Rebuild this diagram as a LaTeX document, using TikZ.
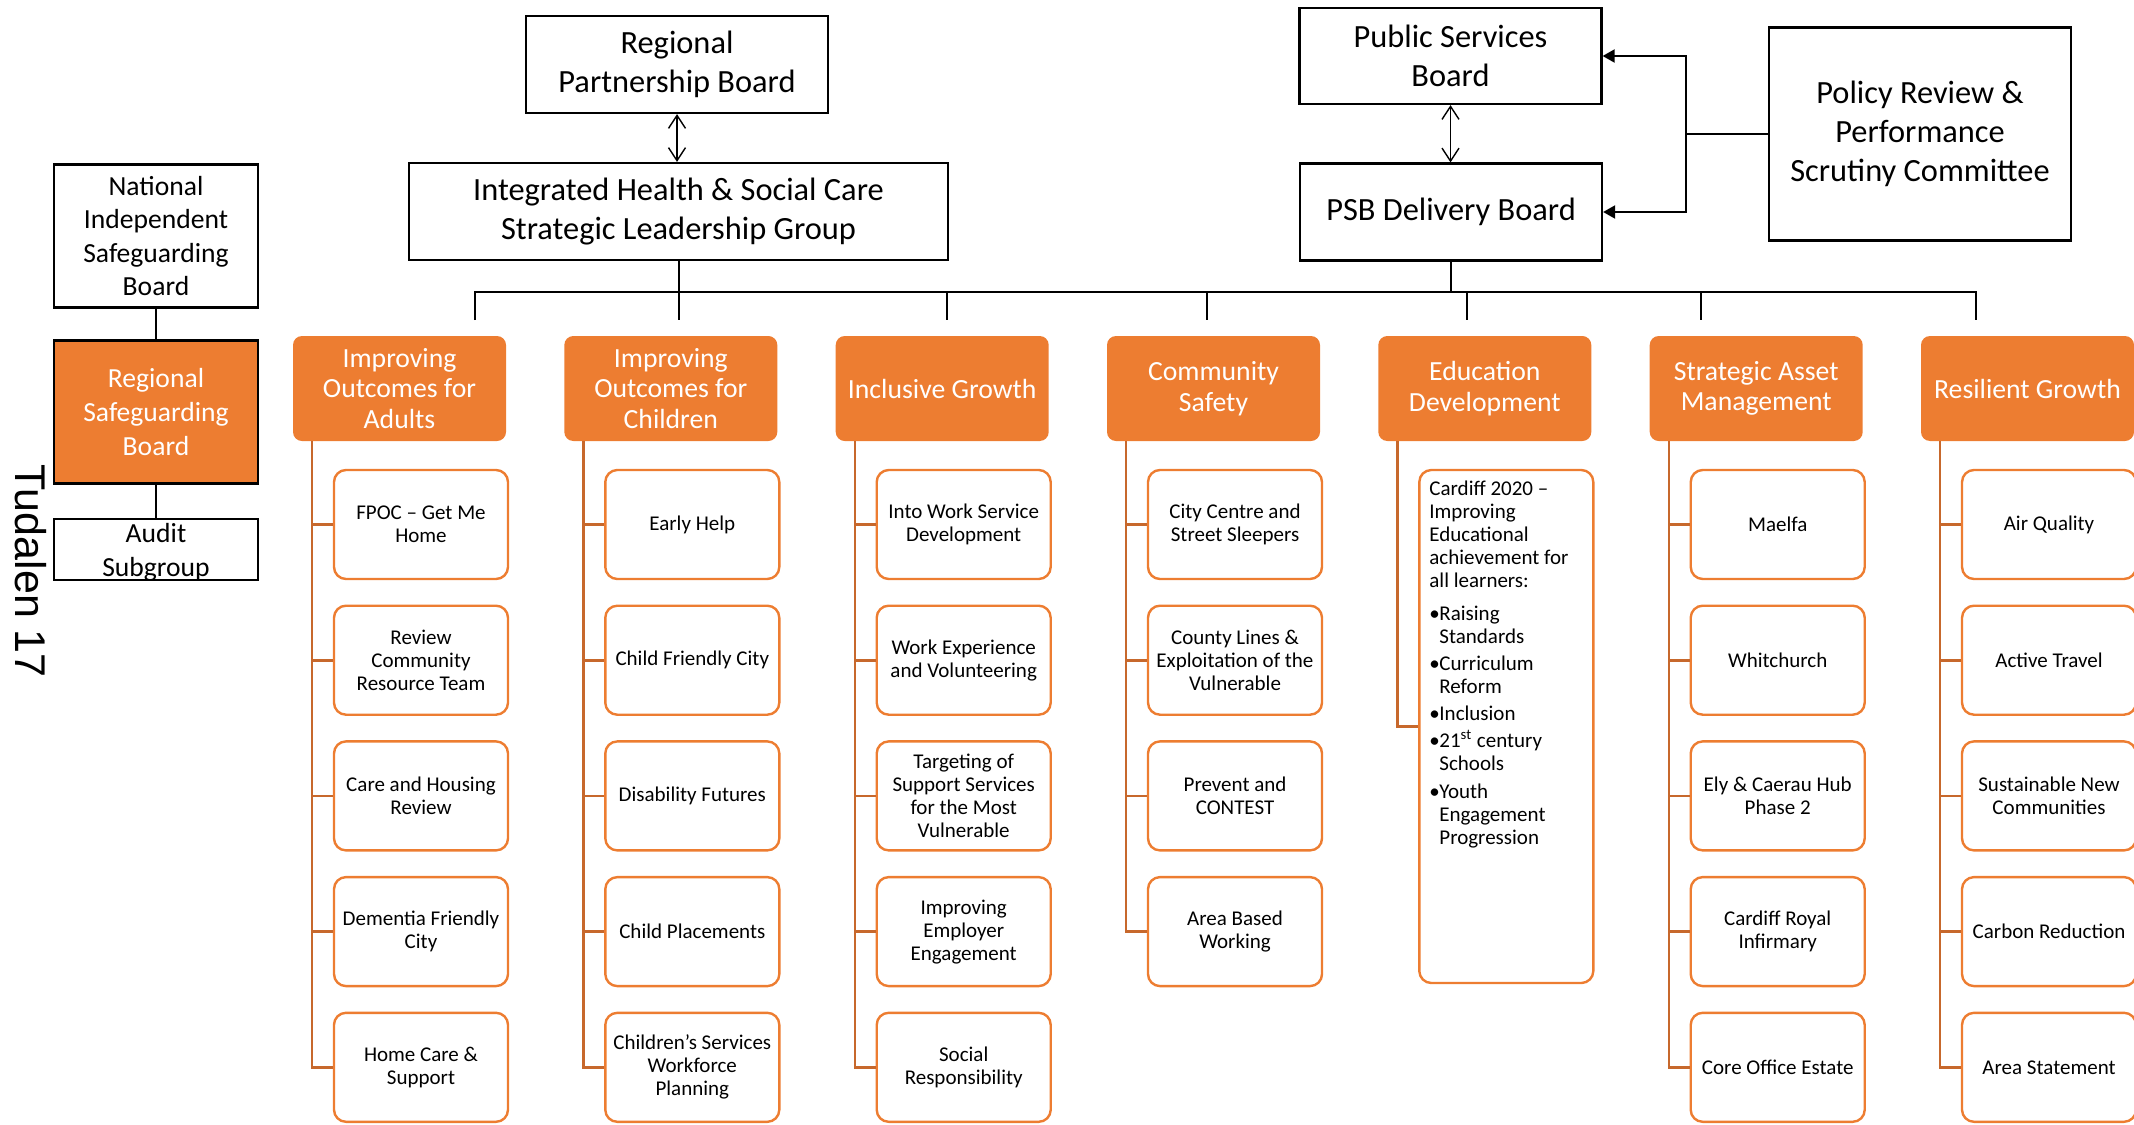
\documentclass[tikz,border=0pt]{standalone}
\usepackage{fontspec}
\setmainfont{Carlito}
\newfontfamily\pagefont{Liberation Sans}
\usetikzlibrary{arrows.meta,calc}
\definecolor{accent}{RGB}{237,125,49}
\definecolor{spine}{RGB}{199,104,44}

\begin{document}
\begin{tikzpicture}[x=0.5pt,y=-0.5pt,
  topbox/.style={draw=black, line width=1.1pt, fill=white, inner sep=0pt, align=center,
    font=\fontsize{16.2}{19.5}\selectfont},
  sidebox/.style={draw=black, line width=1.1pt, fill=white, inner sep=0pt, align=center,
    minimum width=102pt, font=\fontsize{13.8}{16.8}\selectfont},
  sidetext/.style={inner sep=0pt, align=center, font=\fontsize{13.8}{16.8}\selectfont},
  header/.style={fill=accent, rounded corners=4.5pt, minimum width=106.5pt, minimum height=52.5pt,
    inner sep=0pt, align=center, text=white, font=\fontsize{13.85}{15.3}\selectfont},
  leaf/.style={draw=accent, line width=1.2pt, fill=white, rounded corners=6pt,
    minimum width=87pt, minimum height=54.5pt, inner sep=0pt, align=center,
    font=\fontsize{10.5}{11.5}\selectfont},
  conn/.style={draw=spine, line width=1.3pt},
  link/.style={draw=black, line width=1pt},
  twoway/.style={draw=black, line width=0.7pt,
    {Straight Barb[length=6.5pt,width=8.5pt]}-{Straight Barb[length=6.5pt,width=8.5pt]}},
  feed/.style={draw=black, line width=1pt, -{Triangle[length=6pt,width=6.5pt]}}
]
\useasboundingbox (0,0) rectangle (2134,1124);

% governance boxes
\node[topbox, minimum width=151pt, minimum height=48.5pt] (rpb) at (677,64.5) {Regional\\Partnership Board};
\node[topbox, minimum width=269.5pt, minimum height=48.5pt] (ih) at (678.5,211.5) {Integrated Health \& Social Care\\Strategic Leadership Group};
\node[topbox, minimum width=151pt, minimum height=48pt] (psb) at (1450.5,56) {Public Services\\Board};
\node[topbox, minimum width=151pt, minimum height=48.5pt] (psbd) at (1451,212) {PSB Delivery Board};
\node[topbox, minimum width=151pt, minimum height=106.5pt] (policy) at (1920,134) {Policy Review \&\\Performance\\Scrutiny Committee};

% safeguarding chain
\node[sidebox, minimum height=71.5pt] (nisb) at (156,236) {National\\Independent\\Safeguarding\\Board};
\node[sidebox, fill=accent, text=white, minimum height=71.5pt] (rsb) at (156,412) {Regional\\Safeguarding\\Board};
\node[sidebox, minimum height=30.5pt] (audit) at (156,549.5) {};
\node[sidetext] (audittext) at (156,552) {Audit\\Subgroup};
\draw[link] (nisb.south) -- (rsb.north);
\draw[link] (rsb.south) -- (audit.north);

% page number
\node[rotate=-90, inner sep=0pt, font=\pagefont\fontsize{21.5}{24}\selectfont] (pagenum) at (30.5,571) {Tudalen 17};

% links between boards
\draw[twoway] (rpb.south) -- (rpb.south |- ih.north);
\draw[twoway] (psb.south) -- (psb.south |- psbd.north);
\coordinate (pj) at (1686,134);
\draw[link, line width=1.2pt] (policy.west) -- (pj);
\draw[feed] (pj) |- (psb.east);
\draw[feed] (pj) |- (psbd.east);

% distribution bus
\foreach \x [count=\k] in {475,679,947,1207,1467,1701,1976}
  \coordinate (drop\k) at (\x,320);
\coordinate (busy) at (0,292);
\draw[link] (drop1) -- (drop1 |- busy) -- (drop7 |- busy) -- (drop7);
\foreach \k in {2,...,6}
  \draw[link] (drop\k |- busy) -- (drop\k);
\draw[link] (ih.south) -- (ih.south |- busy);
\draw[link] (psbd.south) -- (psbd.south |- busy);

% theme headers
\node[header] (h0) at (399.5,388.5) {Improving\\Outcomes for\\Adults};
\node[header] (h1) at (670.8,388.5) {Improving\\Outcomes for\\Children};
\node[header] (h2) at (942.2,388.5) {Inclusive Growth};
\node[header] (h3) at (1213.5,388.5) {Community\\Safety};
\node[header] (h4) at (1484.8,388.5) {Education\\Development};
\node[header] (h5) at (1756.2,388.5) {Strategic Asset\\Management};
\node[header] (h6) at (2027.5,388.5) {Resilient Growth};
\foreach \i in {0,...,6}
  \coordinate (s\i) at ($(h\i.south west)+(19.5,0)$);

% workstreams
\foreach \t [count=\j from 0] in {{FPOC – Get Me\\Home},{Review\\Community\\Resource Team},{Care and Housing\\Review},{Dementia Friendly\\City},{Home Care \&\\Support}}
  \node[leaf] (c0\j) at (421,{524.5+135.7*\j}) {\t};
\foreach \t [count=\j from 0] in {{Early Help},{Child Friendly City},{Disability Futures},{Child Placements},{Children’s Services\\Workforce\\Planning}}
  \node[leaf] (c1\j) at (692.3,{524.5+135.7*\j}) {\t};
\foreach \t [count=\j from 0] in {{Into Work Service\\Development},{Work Experience\\and Volunteering},{Targeting of\\Support Services\\for the Most\\Vulnerable},{Improving\\Employer\\Engagement},{Social\\Responsibility}}
  \node[leaf] (c2\j) at (963.7,{524.5+135.7*\j}) {\t};
\foreach \t [count=\j from 0] in {{City Centre and\\Street Sleepers},{County Lines \&\\Exploitation of the\\Vulnerable},{Prevent and\\CONTEST},{Area Based\\Working}}
  \node[leaf] (c3\j) at (1235,{524.5+135.7*\j}) {\t};
\foreach \t [count=\j from 0] in {{Maelfa},{Whitchurch},{Ely \& Caerau Hub\\Phase 2},{Cardiff Royal\\Infirmary},{Core Office Estate}}
  \node[leaf] (c5\j) at (1777.7,{524.5+135.7*\j}) {\t};
\foreach \t [count=\j from 0] in {{Air Quality},{Active Travel},{Sustainable New\\Communities},{Carbon Reduction},{Area Statement}}
  \node[leaf] (c6\j) at (2049,{524.5+135.7*\j}) {\t};
\node[leaf, minimum height=256.5pt] (c40) at (1506.3,726.5) {};
\node[anchor=base west, inner sep=0pt] (edutext) at (1429,495) {\parbox[t]{80pt}{\fontsize{10.5}{11.5}\selectfont\raggedright
Cardiff 2020 –\\
Improving\\
Educational\\
achievement for\\
all learners:\\[5pt]
\makebox[5pt][l]{•}Raising\\
\hspace*{5pt}Standards\\[2pt]
\makebox[5pt][l]{•}Curriculum\\
\hspace*{5pt}Reform\\[2pt]
\makebox[5pt][l]{•}Inclusion\\[2pt]
\makebox[5pt][l]{•}21\textsuperscript{st} century\\
\hspace*{5pt}Schools\\[2.5pt]
\makebox[5pt][l]{•}Youth\\
\hspace*{5pt}Engagement\\
\hspace*{5pt}Progression}};

% spines from headers to workstreams
\foreach \i in {0,1,2,5,6} {
  \draw[conn] (s\i) |- (c\i4.west);
  \foreach \j in {0,...,3}
    \draw[conn] (c\i\j.west) -- (c\i\j.west -| s\i);
}
\draw[conn] (s3) |- (c33.west);
\foreach \j in {0,1,2}
  \draw[conn] (c3\j.west) -- (c3\j.west -| s3);
\draw[conn] (s4) |- (c40.west);
\end{tikzpicture}
\end{document}
